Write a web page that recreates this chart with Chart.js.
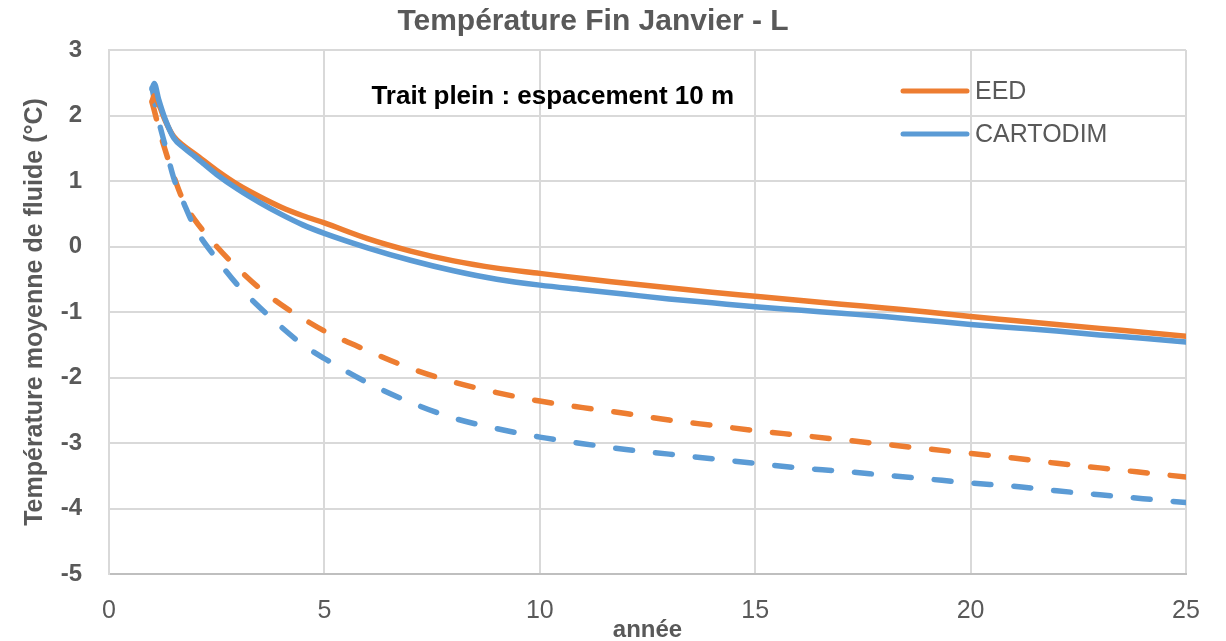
<!DOCTYPE html>
<html><head><meta charset="utf-8">
<script src="https://cdn.jsdelivr.net/npm/chart.js@4.4.0/dist/chart.umd.min.js"></script>
<style>html,body{margin:0;padding:0;background:#fff;} canvas{display:block;}</style>
</head><body>
<canvas id="c" width="1226" height="641"></canvas>
<script>
// ---- data ----
const years          = [1, 1.05, 1.15, 1.3, 1.5, 1.75, 2, 2.5, 3, 3.5, 4, 4.5, 5, 6, 7, 8, 9, 10, 11, 12, 13, 14, 15, 16, 17, 18, 19, 20, 21, 22, 23, 24, 25];
const eedSolid       = [2.22, 2.30, 2.18, 1.93, 1.68, 1.53, 1.41, 1.16, 0.94, 0.76, 0.60, 0.47, 0.36, 0.12, -0.07, -0.22, -0.33, -0.41, -0.49, -0.56, -0.63, -0.70, -0.76, -0.82, -0.88, -0.94, -1.00, -1.07, -1.13, -1.19, -1.25, -1.31, -1.37];
const cartodimSolid  = [2.40, 2.49, 2.25, 1.95, 1.66, 1.50, 1.37, 1.10, 0.87, 0.67, 0.49, 0.33, 0.20, -0.02, -0.21, -0.37, -0.50, -0.59, -0.66, -0.73, -0.80, -0.86, -0.92, -0.97, -1.02, -1.07, -1.13, -1.19, -1.24, -1.29, -1.35, -1.40, -1.46];
const eedDashed      = [2.20, 2.08, 1.82, 1.48, 1.08, 0.66, 0.40, 0.00, -0.34, -0.64, -0.89, -1.10, -1.29, -1.59, -1.86, -2.07, -2.23, -2.36, -2.46, -2.55, -2.65, -2.73, -2.81, -2.88, -2.95, -3.02, -3.09, -3.16, -3.23, -3.31, -3.38, -3.45, -3.52];
const cartodimDashed = [2.42, 2.25, 1.93, 1.55, 1.05, 0.64, 0.28, -0.19, -0.60, -0.93, -1.23, -1.50, -1.71, -2.08, -2.38, -2.62, -2.78, -2.91, -3.01, -3.10, -3.17, -3.24, -3.31, -3.38, -3.43, -3.49, -3.55, -3.61, -3.66, -3.73, -3.79, -3.85, -3.91];

const seriesNames = ['EED', 'CARTODIM'];
const xTickValues = [0, 5, 10, 15, 20, 25];
const yTickValues = [-5, -4, -3, -2, -1, 0, 1, 2, 3];
const chartTitle = 'Température Fin Janvier - L';
const xAxisTitle = 'année';
const yAxisTitle = 'Température moyenne de fluide (°C)';
const noteText = 'Trait plein : espacement 10 m';
const noteAt = {x: 10.3, y: 2.28};

// ---- styling ----
const ORANGE = '#ED7D31';
const BLUE = '#5B9BD5';
const GREY = '#595959';
const FONT = "'Liberation Sans', Arial, sans-serif";

const toPts = (ys) => years.map((x, i) => ({x: x, y: ys[i]}));

function lineDs(label, ys, color, dashed, order, legendIndex) {
  return {
    label: label,
    data: toPts(ys),
    borderColor: color,
    backgroundColor: color,
    borderWidth: 5.5,
    borderDash: dashed ? [17, 23] : [],
    borderCapStyle: 'round',
    borderJoinStyle: 'round',
    pointRadius: 0,
    pointHoverRadius: 0,
    fill: false,
    cubicInterpolationMode: 'monotone',
    isDashed: dashed,
    legendIndex: legendIndex,
    order: order
  };
}

const legendAndNote = {
  id: 'legendAndNote',
  afterDraw(chart) {
    const ctx = chart.ctx;
    const xs = chart.scales.x, ys = chart.scales.y;
    ctx.save();
    // note text
    ctx.font = 'bold 26px ' + FONT;
    ctx.fillStyle = '#000000';
    ctx.textAlign = 'center';
    ctx.textBaseline = 'middle';
    ctx.fillText(noteText, xs.getPixelForValue(noteAt.x), ys.getPixelForValue(noteAt.y));
    // legend (solid series only, in series order)
    const items = chart.data.datasets.filter(d => !d.isDashed)
      .sort((a, b) => a.legendIndex - b.legendIndex);
    const lx0 = 903, lx1 = 967, ly0 = 91, dy = 43;
    items.forEach((d, i) => {
      const y = ly0 + i * dy;
      ctx.strokeStyle = d.borderColor;
      ctx.lineWidth = 5;
      ctx.lineCap = 'round';
      ctx.setLineDash([]);
      ctx.beginPath();
      ctx.moveTo(lx0, y);
      ctx.lineTo(lx1, y);
      ctx.stroke();
      ctx.font = '25px ' + FONT;
      ctx.fillStyle = GREY;
      ctx.textAlign = 'left';
      ctx.textBaseline = 'middle';
      ctx.fillText(d.label, 975, y + 1);
    });
    ctx.restore();
  }
};

new Chart(document.getElementById('c'), {
  type: 'line',
  data: {
    datasets: [
      lineDs(seriesNames[1], cartodimSolid, BLUE, false, 1, 1),
      lineDs(seriesNames[0], eedSolid, ORANGE, false, 2, 0),
      lineDs(seriesNames[1] + ' (tirets)', cartodimDashed, BLUE, true, 3, 3),
      lineDs(seriesNames[0] + ' (tirets)', eedDashed, ORANGE, true, 4, 2)
    ]
  },
  options: {
    responsive: false,
    animation: false,
    devicePixelRatio: 1,
    layout: {padding: {left: 0, right: 40, top: 0, bottom: 0}},
    plugins: {
      legend: {display: false},
      tooltip: {enabled: false},
      title: {
        display: true,
        text: chartTitle,
        color: GREY,
        font: {family: FONT, size: 30, weight: 'bold'},
        padding: {top: 4, bottom: 10}
      }
    },
    scales: {
      x: {
        type: 'linear',
        min: 0, max: 25,
        afterBuildTicks: (s) => { s.ticks = xTickValues.map(v => ({value: v})); },
        afterFit: (s) => { s.height = 67; },
        grid: {color: '#d9d9d9', lineWidth: 2, drawTicks: false},
        border: {color: '#bfbfbf', width: 2},
        ticks: {color: GREY, font: {family: FONT, size: 25}, padding: 22, maxRotation: 0},
        title: {display: true, text: xAxisTitle, color: GREY, font: {family: FONT, size: 24, weight: 'bold', lineHeight: 1}, padding: {top: 0, bottom: -1}}
      },
      y: {
        type: 'linear',
        min: -5, max: 3,
        afterBuildTicks: (s) => { s.ticks = yTickValues.map(v => ({value: v})); },
        afterFit: (s) => { s.width = 109; },
        grid: {color: '#d9d9d9', lineWidth: 2, drawTicks: false},
        border: {color: '#d9d9d9', width: 2},
        ticks: {color: GREY, font: {family: FONT, size: 24, weight: 'bold'}, padding: 27},
        title: {display: true, text: yAxisTitle, color: GREY, font: {family: FONT, size: 25, weight: 'bold', lineHeight: 1}, padding: {top: 23, bottom: 0}}
      }
    }
  },
  plugins: [legendAndNote]
});
</script>
</body></html>
